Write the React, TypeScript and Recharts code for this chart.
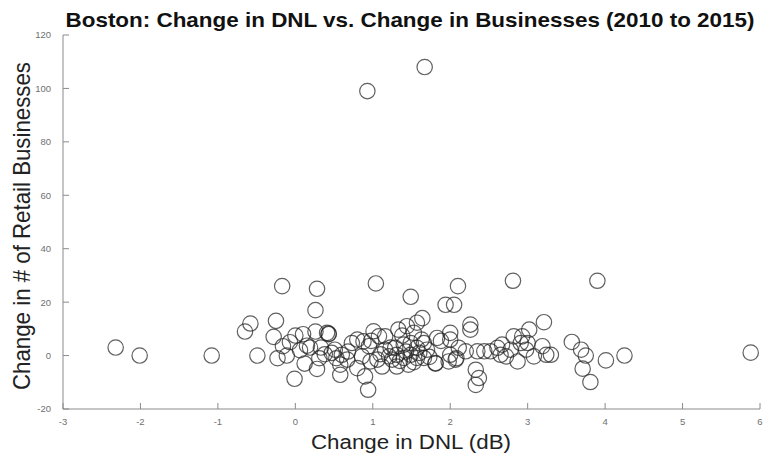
import React from "react";
import { ScatterChart, Scatter, XAxis, YAxis } from "recharts";

const dnlChange = [
  -2.32, -2.01, -1.08, -0.65, -0.58, -0.49, -0.28, -0.25, -0.23, -0.17, -0.16, -0.11,
  -0.01, 0.0, 0.1, 0.12, 0.15, 0.19, 0.26, 0.28, 0.26, 0.28, 0.41, 0.43, 0.47, 0.51,
  0.58, 0.6, 0.67, 0.58, 0.73, 0.8, 0.88, 0.95, 0.9, 0.94, 0.86, 0.97, 1.01, 1.04,
  1.06, 1.08, 1.12, 1.16, 1.16, 1.21, 1.25, 0.8, 1.29, 1.31, 1.31, 1.33, 1.4, 1.4,
  1.44, 1.46, 1.49, 1.49, 1.49, 1.57, 1.57, 1.57, 1.64, 1.66, 1.66, 1.7, 1.81, 1.83,
  1.94, 1.98, 2.0, 2.0, 2.0, 2.05, 2.07, 2.1, 2.11, 2.2, 2.26, 2.26, 2.33, 2.33, 2.37,
  2.35, 2.44, 2.52, 2.61, 2.65, 2.67, 2.72, 2.78, 2.81, 2.82, 2.87, 2.91, 2.93, 2.98,
  3.0, 3.02, 3.08, 3.19, 3.21, 3.24, 3.3, 3.57, 3.69, 3.75, 3.71, 3.81, 3.9, 4.01,
  4.25, 5.88, 0.93, 1.67, 0.33, 0.38, 0.53, 1.23, 1.35, 1.43, 1.53, 1.6, 1.73, 1.1,
  0.98, 0.68, 1.88, 2.08, 0.06, -0.07, 0.31, 1.63, 1.38, 1.53, 0.43, 1.81,
];

const retailChange = [
  3, 0, 0, 9, 12, 0, 7, 13, -1, 26, 3.5, 0,
  -8.7, 7.5, 8, -3, 3.7, 3, 17, 25, 9, -5, 8.5, 8, 1, 2.2,
  -7.2, 0.3, -1.5, -3.4, 4.7, 6, 5.3, 3.5, -7.8, -12.8, -0.3, -2.2, 9.1, 27,
  -1.5, 7.2, -4.1, 7.2, 2.2, -0.3, -1.5, -4.7, 2.9, 0.3, -4.1, 9.7, 4.1, -0.9,
  11, -3.4, 4.7, 0.3, 22, 12.3, 2.9, -0.9, 14, 4.7, -0.9, 2.2, -2.8, 6.6,
  19, -2.2, 8.5, 6, 0.3, 19, -1.5, 26, 2.9, 1.6, 11.6, 9.7, -5.3, -11, -8.4,
  1.6, 1.6, 1.6, 2.9, 0.3, 4.1, -0.3, 2.2, 28, 7.2, -2.2, 4.7, 7.2, 2.2,
  4.7, 9.7, -0.3, 3.5, 12.5, 0.3, 0.3, 5.1, 2.2, 0, -4.9, -9.9, 28, -1.8,
  0, 1.1, 99, 108, 3, 0.5, -1, 3, -2, 1.5, -2.5, 1, -0.5, 0.5,
  5.5, 1.5, 5.5, -1, 2, 5, -1, 6, 7.5, 8.5, 8.2, -3,
];

const xTicks = [-3, -2, -1, 0, 1, 2, 3, 4, 5, 6];
const yTicks = [-20, 0, 20, 40, 60, 80, 100, 120];

const titleText = "Boston: Change in DNL vs. Change in Businesses (2010 to 2015)";
const xLabelText = "Change in DNL (dB)";
const yLabelText = "Change in # of Retail Businesses";

const data = dnlChange.map((x, i) => ({ x, y: retailChange[i] }));

const AXIS = "#8a8a8a";
const TICKTXT = "#707070";
const TICKFONT = "'Liberation Sans Narrow', 'Arial Narrow', 'Liberation Sans', Arial, sans-serif";
const FONT = "'Liberation Sans', Arial, sans-serif";

const XTick = (props: any) => {
  const { x, y, payload } = props;
  const axisY = y - 9;
  return (
    <g>
      <line x1={x} x2={x} y1={axisY} y2={axisY - 6} stroke={AXIS} strokeWidth={1} />
      <text x={x} y={y} dy="0.71em" textAnchor="middle" fontSize={9.5} fill={TICKTXT} fontFamily={TICKFONT}>
        {payload.value}
      </text>
    </g>
  );
};

const YTick = (props: any) => {
  const { x, y, payload } = props;
  const axisX = x + 12;
  return (
    <g>
      <line x1={axisX} x2={axisX + 6} y1={y} y2={y} stroke={AXIS} strokeWidth={1} />
      <text x={x} y={y} dy="0.355em" textAnchor="end" fontSize={9.5} fill={TICKTXT} fontFamily={TICKFONT}>
        {payload.value}
      </text>
    </g>
  );
};

const Ring = (props: any) => {
  const { cx, cy } = props;
  if (cx == null || cy == null) return <g />;
  return <circle cx={cx} cy={cy} r={7.7} fill="none" stroke="#222" strokeOpacity={0.72} strokeWidth={1.2} />;
};

export default function App() {
  return (
    <div style={{ position: "absolute", left: 0, top: 0, width: 766, height: 457, background: "#fff" }}>
      <ScatterChart width={766} height={457} margin={{ top: 35, right: 6, bottom: 0, left: 0 }}>
        <XAxis
          type="number"
          dataKey="x"
          domain={[-3, 6]}
          ticks={xTicks}
          allowDataOverflow
          stroke={AXIS}
          tickLine={false}
          tickSize={0}
          tickMargin={9}
          height={48}
          tick={<XTick />}
          interval={0}
        />
        <YAxis
          type="number"
          dataKey="y"
          domain={[-20, 120]}
          ticks={yTicks}
          allowDataOverflow
          stroke={AXIS}
          tickLine={false}
          tickSize={0}
          tickMargin={12}
          width={63}
          tick={<YTick />}
          interval={0}
        />
        <Scatter data={data} shape={<Ring />} isAnimationActive={false} />
      </ScatterChart>
      <svg width={766} height={457} style={{ position: "absolute", left: 0, top: 0, pointerEvents: "none" }}>
        <text
          x={410}
          y={27}
          textAnchor="middle"
          fontSize={21}
          fontWeight="bold"
          fontFamily={FONT}
          fill="#111"
          textLength={689}
          lengthAdjust="spacingAndGlyphs"
        >
          {titleText}
        </text>
        <text
          x={411}
          y={449}
          textAnchor="middle"
          fontSize={20}
          fontFamily={FONT}
          fill="#222"
          textLength={200}
          lengthAdjust="spacingAndGlyphs"
        >
          {xLabelText}
        </text>
        <text
          x={0}
          y={0}
          transform="translate(30, 226) rotate(-90)"
          textAnchor="middle"
          fontSize={24}
          fontFamily={FONT}
          fill="#222"
          textLength={328}
          lengthAdjust="spacingAndGlyphs"
        >
          {yLabelText}
        </text>
      </svg>
    </div>
  );
}
